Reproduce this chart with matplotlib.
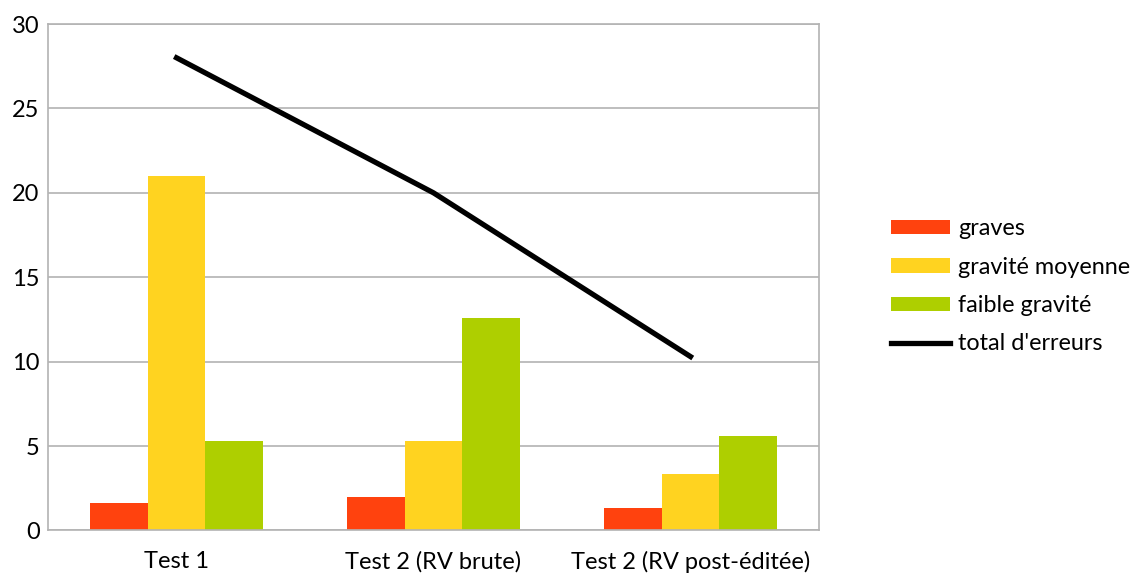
import matplotlib.pyplot as plt
import numpy as np

plt.rcParams['font.family'] = ['Lato', 'DejaVu Sans']

categories = ["Test 1", "Test 2 (RV brute)", "Test 2 (RV post-éditée)"]
graves = [1.62, 2.0, 1.32]
moyenne = [21.0, 5.3, 3.33]
faible = [5.3, 12.6, 5.6]
total = [28, 20, 10.3]

x = np.arange(len(categories))
w = 0.224

fig = plt.figure(figsize=(11.41, 5.76), dpi=100)
ax = fig.add_axes([0.0421, 0.0790, 0.6757, 0.8793])

b1 = ax.bar(x - w, graves, w, color='#ff420e', label='graves', zorder=2)
b2 = ax.bar(x, moyenne, w, color='#ffd320', label='gravité moyenne', zorder=2)
b3 = ax.bar(x + w, faible, w, color='#aecf00', label='faible gravité', zorder=2)
ln, = ax.plot(x, total, color='black', lw=3.8, label="total d'erreurs", zorder=3)

ax.set_xlim(-0.5, 2.5)
ax.set_ylim(0, 30)
ax.set_yticks(range(0, 31, 5))
ax.set_xticks(x)
ax.set_xticklabels(categories)
ax.grid(axis='y', color='#b3b3b3', lw=1.2, zorder=0)
for s in ax.spines.values():
    s.set_color('#b3b3b3')
    s.set_linewidth(1.2)
ax.tick_params(axis='both', length=0, labelsize=17)
ax.tick_params(axis='x', pad=15)
ax.tick_params(axis='y', pad=6)

ax.legend([b1, b2, b3, ln], ['graves', 'gravité moyenne', 'faible gravité', "total d'erreurs"],
          loc='center left', bbox_to_anchor=(1.081, 0.482), frameon=False,
          fontsize=16.8, handlelength=2.55, handleheight=0.57, labelspacing=0.74,
          handletextpad=0.34, borderaxespad=0)

fig.savefig('out.png', dpi=100)
